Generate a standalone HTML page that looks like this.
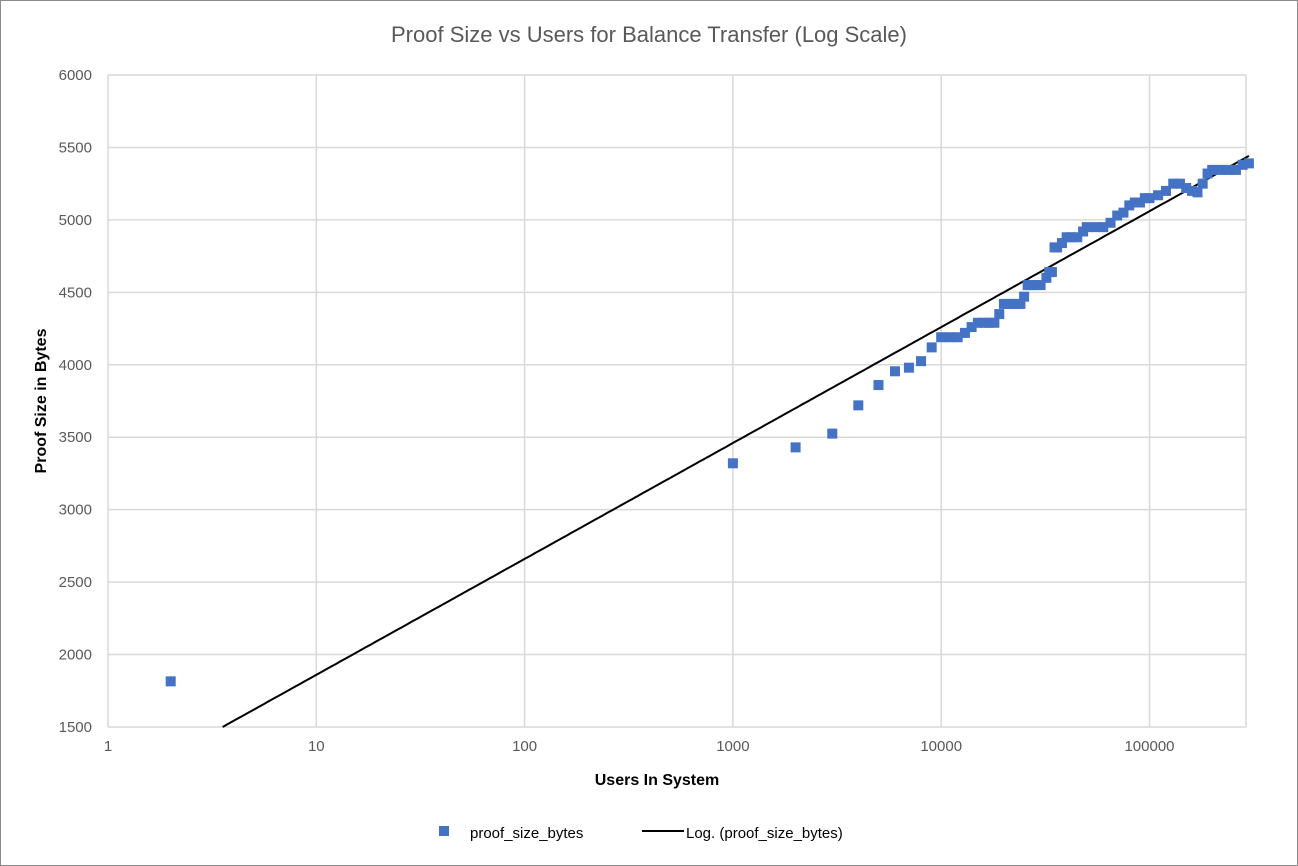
<!DOCTYPE html>
<html><head><meta charset="utf-8"><style>
html,body{margin:0;padding:0;background:#fff}
svg{display:block;font-family:"Liberation Sans",sans-serif}
</style></head><body>
<svg id="chart" width="1298" height="866" viewBox="0 0 1298 866">
<rect x="0.5" y="0.5" width="1297" height="865" fill="#fff" stroke="#8c8c8c"/>
<text x="649" y="42" text-anchor="middle" font-size="22" fill="#595959">Proof Size vs Users for Balance Transfer (Log Scale)</text>
<g id="grid"></g>
<g id="ticks"></g>
<g id="trend"></g>
<g id="points"></g>
<text x="657" y="785" text-anchor="middle" font-size="16" font-weight="bold" fill="#000">Users In System</text>
<text transform="translate(46,401) rotate(-90)" text-anchor="middle" font-size="16" font-weight="bold" fill="#000">Proof Size in Bytes</text>
<g>
<rect x="439" y="826" width="10" height="10" fill="#4472C4"/>
<text x="470" y="838" font-size="15" fill="#000">proof_size_bytes</text>
<line x1="642" y1="831" x2="684" y2="831" stroke="#000" stroke-width="2"/>
<text x="686" y="838" font-size="15" fill="#000">Log. (proof_size_bytes)</text>
</g>
</svg>
<script>
const users = [2,1000,2000,3000,4000,5000,6000,7000,8000,9000,10000,11000,12000,13000,14000,15000,16000,17000,18000,19000,20000,21000,22000,23000,24000,25000,26000,27000,28000,30000,32000,33000,34000,35000,36000,38000,40000,42000,45000,48000,50000,55000,60000,65000,70000,75000,80000,85000,90000,95000,100000,110000,120000,130000,140000,150000,160000,170000,180000,190000,200000,220000,240000,260000,280000,300000];
const proofBytes = [1815,3320,3430,3525,3720,3860,3955,3980,4025,4120,4190,4190,4190,4220,4260,4290,4290,4290,4290,4350,4420,4420,4420,4420,4420,4470,4550,4550,4550,4550,4600,4640,4640,4810,4810,4840,4880,4880,4880,4920,4950,4950,4950,4980,5030,5050,5100,5120,5120,5150,5150,5170,5200,5250,5250,5220,5200,5190,5250,5320,5345,5345,5345,5345,5380,5390];
const yTicks = [1500,2000,2500,3000,3500,4000,4500,5000,5500,6000];
const xTicks = [1,10,100,1000,10000,100000];
const trendSlopePerDecade = [800];
const trendIntercept = [1060];

const NS = "http://www.w3.org/2000/svg";
const L = 108, R = 1246, T = 75, B = 727;
const xMin = 0, xMax = Math.log10(300000);
const yMin = 1500, yMax = 6000;
const decade = 208.3;
function xs(u){ return L + Math.log10(u) * decade; }
function ys(v){ return B - (v - yMin) / (yMax - yMin) * (B - T); }
function mk(tag, attrs, parent){ const e = document.createElementNS(NS, tag); for (const k in attrs) e.setAttribute(k, attrs[k]); parent.appendChild(e); return e; }

const grid = document.getElementById('grid');
const ticks = document.getElementById('ticks');
yTicks.forEach(v => {
  const y = ys(v);
  const ln = mk('line', {x1:L, x2:R, y1:y, y2:y, stroke:'#d9d9d9', 'stroke-width':1.5}, grid);
  
  
  const t = mk('text', {x:92, y:y+5, 'text-anchor':'end', 'font-size':15, fill:'#595959'}, ticks);
  t.textContent = v;
  
  
});
xTicks.forEach(u => {
  const x = xs(u);
  const ln = mk('line', {x1:x, x2:x, y1:T, y2:B, stroke:'#d9d9d9', 'stroke-width':1.5}, grid);
  
  
  const t = mk('text', {x:x, y:751, 'text-anchor':'middle', 'font-size':15, fill:'#595959'}, ticks);
  t.textContent = u;
  
  
});
const rEdge = mk('line', {x1:R, x2:R, y1:T, y2:B, stroke:'#d9d9d9', 'stroke-width':1.5}, grid);



// trendline
const trend = document.getElementById('trend');
const a = trendSlopePerDecade[0], b = trendIntercept[0];
const startLog = (yMin - b) / a;
let d = '';
const steps = 200;
for (let i = 0; i <= steps; i++) {
  const lg = startLog + (xMax - startLog) * i / steps;
  const x = L + lg * decade, y = ys(a * lg + b);
  d += (i ? 'L' : 'M') + x.toFixed(1) + ',' + y.toFixed(1);
}
const tp = mk('path', {d:d, fill:'none', stroke:'#000', 'stroke-width':2}, trend);



const pts = document.getElementById('points');
users.forEach((u, i) => {
  const x = xs(u), y = ys(proofBytes[i]);
  const r = mk('rect', {x:x-5, y:y-5, width:10, height:10, fill:'#4472C4'}, pts);
  
  
});
</script>
</body></html>
